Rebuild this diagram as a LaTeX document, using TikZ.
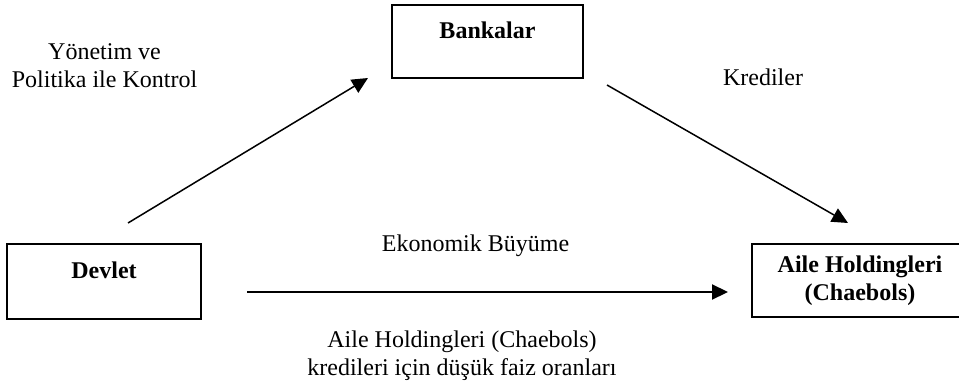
\documentclass[tikz,border=0pt]{standalone}
\usepackage{fontspec}
\setmainfont{Liberation Serif}
\usetikzlibrary{arrows.meta}

\begin{document}
\begin{tikzpicture}[x=1pt, y=-1pt,
    txt/.style={font=\fontsize{24}{28}\selectfont, align=center, inner sep=0pt},
    box/.style={draw, line width=1.9pt, font=\fontsize{24}{28}\selectfont\bfseries, align=center},
    onebox/.style={box, text height=16pt, text depth=22pt},
    arr/.style={-{Triangle[length=16pt, width=15pt]}, line width=1.5pt}]
    \path[use as bounding box, clip] (0,0) rectangle (959,385);
    % Rectangle: Devlet
    \node[onebox, minimum width=194pt, minimum height=75pt] (devlet) at (104,281.5) {Devlet};
    % Rectangle: Bankalar
    \node[onebox, minimum width=191pt, minimum height=73pt] (banks) at (487.5,41.5) {Bankalar};
    % Rectangle: Aile Holdingleri
    \node[box, minimum width=216pt, minimum height=73pt] (aile) at (860,280.5) {Aile Holdingleri\\(Chaebols)};
    % Labels
    \node[txt] (controlLabel) at (104.5,66) {Yönetim ve\\Politika ile Kontrol};
    \node[txt] (creditLabel) at (763,77) {Krediler};
    \node[txt] (growthLabel) at (475.5,246) {Ekonomik Büyüme};
    \node[txt] (rateLabel) at (462,356) {Aile Holdingleri (Chaebols)\\kredileri için düşük faiz oranları};
    % Arrow ends
    \coordinate (controlStart) at (128,223);
    \coordinate (controlEnd) at (368,78);
    \coordinate (creditStart) at (607,85);
    \coordinate (creditEnd) at (848,223);
    \coordinate (growthStart) at (247,292);
    \coordinate (growthEnd) at (728,292);
    % Arrows
    \draw[arr] (controlStart) -- (controlEnd);
    \draw[arr] (creditStart) -- (creditEnd);
    \draw[arr, line width=2.2pt] (growthStart) -- (growthEnd);
\end{tikzpicture}
\end{document}
